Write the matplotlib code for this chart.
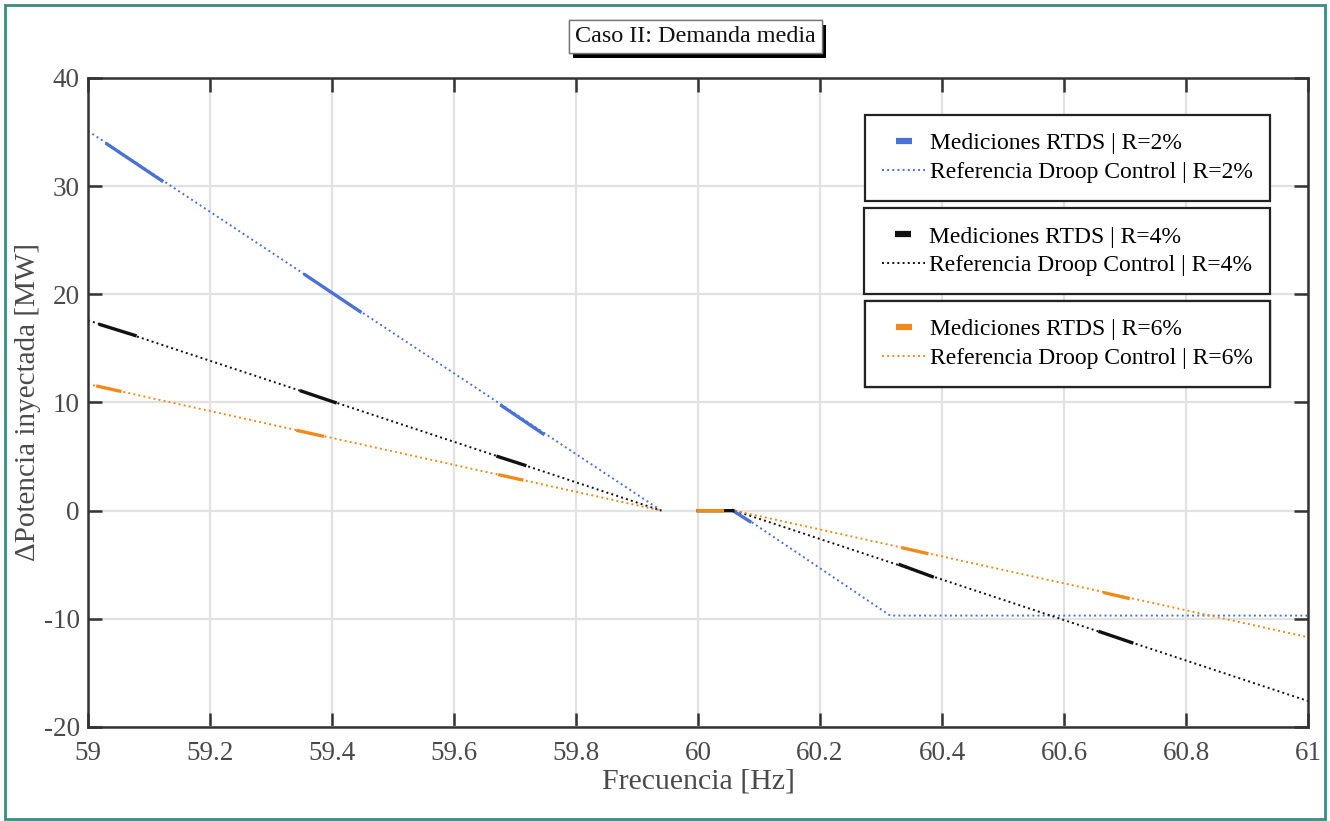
import matplotlib
matplotlib.use("Agg")
import matplotlib.pyplot as plt
import matplotlib.patheffects as pe
from matplotlib.patches import Rectangle
from matplotlib.lines import Line2D
import numpy as np

plt.rcParams['font.family'] = ['Liberation Serif', 'DejaVu Serif']
plt.rcParams['axes.unicode_minus'] = False

nan = np.nan

# Referencia droop control (curvas teóricas, NaN = banda muerta)
f_ref_r2 = [59.0, 59.94, nan, 60.06, 60.315, 61.0]
p_ref_r2 = [35.1, 0.0, nan, 0.0, -9.7, -9.7]
f_ref_r4 = [59.0, 59.94, nan, 60.06, 61.0]
p_ref_r4 = [17.6, 0.0, nan, 0.0, -17.6]
f_ref_r6 = [59.0, 59.94, nan, 60.06, 61.0]
p_ref_r6 = [11.7, 0.0, nan, 0.0, -11.7]

# Mediciones RTDS (tramos medidos)
f_med_r2 = [59.031, 59.121, nan, 59.356, 59.446, nan, 59.678, 59.746, nan, 60.057, 60.085]
p_med_r2 = [33.9, 30.5, nan, 21.8, 18.4, nan, 9.7, 7.1, nan, 0.0, -1.0]
f_med_r4 = [59.02, 59.077, nan, 59.35, 59.405, nan, 59.672, 59.716, nan, 60.0, 60.057,
            nan, 60.331, 60.384, nan, 60.659, 60.711]
p_med_r4 = [17.2, 16.2, nan, 11.05, 10.0, nan, 5.0, 4.2, nan, 0.0, 0.0,
            nan, -5.0, -6.1, nan, -11.2, -12.2]
f_med_r6 = [59.016, 59.052, nan, 59.344, 59.384, nan, 59.675, 59.711, nan, 60.0, 60.04,
            nan, 60.336, 60.375, nan, 60.667, 60.705]
p_med_r6 = [11.5, 11.05, nan, 7.4, 6.9, nan, 3.3, 2.85, nan, 0.0, 0.0,
            nan, -3.45, -3.95, nan, -7.6, -8.1]

c_blue = '#4a72d4'
c_black = '#111111'
c_orange = '#f08a1c'

fig = plt.figure(figsize=(13.3, 8.21), dpi=100)
ax = fig.add_axes([0.0662, 0.1145, 0.9173, 0.7905])

# referencias punteadas
ax.plot(f_ref_r2, p_ref_r2, ':', color=c_blue, lw=1.4)
ax.plot(f_ref_r4, p_ref_r4, ':', color=c_black, lw=1.4)
ax.plot(f_ref_r6, p_ref_r6, ':', color=c_orange, lw=1.4)

# mediciones
ax.plot(f_med_r2, p_med_r2, '-', color=c_blue, lw=2.4)
ax.plot(f_med_r4, p_med_r4, '-', color=c_black, lw=2.4)
ax.plot(f_med_r6, p_med_r6, '-', color=c_orange, lw=2.4)

ax.set_xlim(59, 61)
ax.set_ylim(-20, 40)
ax.set_xticks(np.arange(59, 61.01, 0.2))
ax.set_xticklabels(['59', '59.2', '59.4', '59.6', '59.8', '60', '60.2', '60.4', '60.6', '60.8', '61'])
ax.set_yticks([-20, -10, 0, 10, 20, 30, 40])
ax.grid(True, color='#e2e2e2', lw=1.6)
ax.set_axisbelow(True)
ax.tick_params(direction='in', length=10, width=1.8, top=True, right=True,
               labelsize=19.5, colors='#333333', labelcolor='#4a4a4a')
ax.tick_params(axis='x', pad=10)
ax.tick_params(axis='y', pad=6)
for s in ax.spines.values():
    s.set_linewidth(1.8)
    s.set_color('#333333')

ax.set_xlabel('Frecuencia [Hz]', fontsize=21.5, color='#4a4a4a', labelpad=2)
ax.set_ylabel('ΔPotencia inyectada [MW]', fontsize=21, color='#4a4a4a', labelpad=2)

# leyendas en tres cajas
labels = [('Mediciones RTDS | R=2%', 'Referencia Droop Control | R=2%'),
          ('Mediciones RTDS | R=4%', 'Referencia Droop Control | R=4%'),
          ('Mediciones RTDS | R=6%', 'Referencia Droop Control | R=6%')]
colors = [c_blue, c_black, c_orange]
anchors = [0.943, 0.799, 0.656]
for (lab_m, lab_r), c, yb in zip(labels, colors, anchors):
    h_m = Line2D([], [], color=c, marker='_', linestyle='none', markersize=12, mew=4.5)
    h_r = Line2D([], [], color=c, linestyle=':', lw=1.4)
    leg = ax.legend(handles=[h_m, h_r], labels=[lab_m, lab_r], loc='upper right',
                    bbox_to_anchor=(0.9689, yb),
                    fontsize=17, frameon=True, fancybox=False, framealpha=1,
                    edgecolor='#222222', handlelength=1.8, handletextpad=0.2,
                    borderpad=0.75, labelspacing=0.3, borderaxespad=0)
    leg.get_frame().set_linewidth(1.6)
    ax.add_artist(leg)

# titulo con sombra
t = fig.text(0.523, 0.955, 'Caso II: Demanda media', fontsize=17.4, ha='center', va='center',
             color='#111111',
             bbox=dict(boxstyle='square,pad=0.25', facecolor='white', edgecolor='#777777', lw=1))
t.get_bbox_patch().set_path_effects([pe.withSimplePatchShadow(offset=(3, -3), shadow_rgbFace='black', alpha=1.0), pe.Normal()])

# borde exterior
fig.patches.append(Rectangle((0.004, 0.003), 0.992, 0.991, transform=fig.transFigure,
                             fill=False, edgecolor='#3f8a80', lw=2))

fig.savefig('out.png', dpi=100)
